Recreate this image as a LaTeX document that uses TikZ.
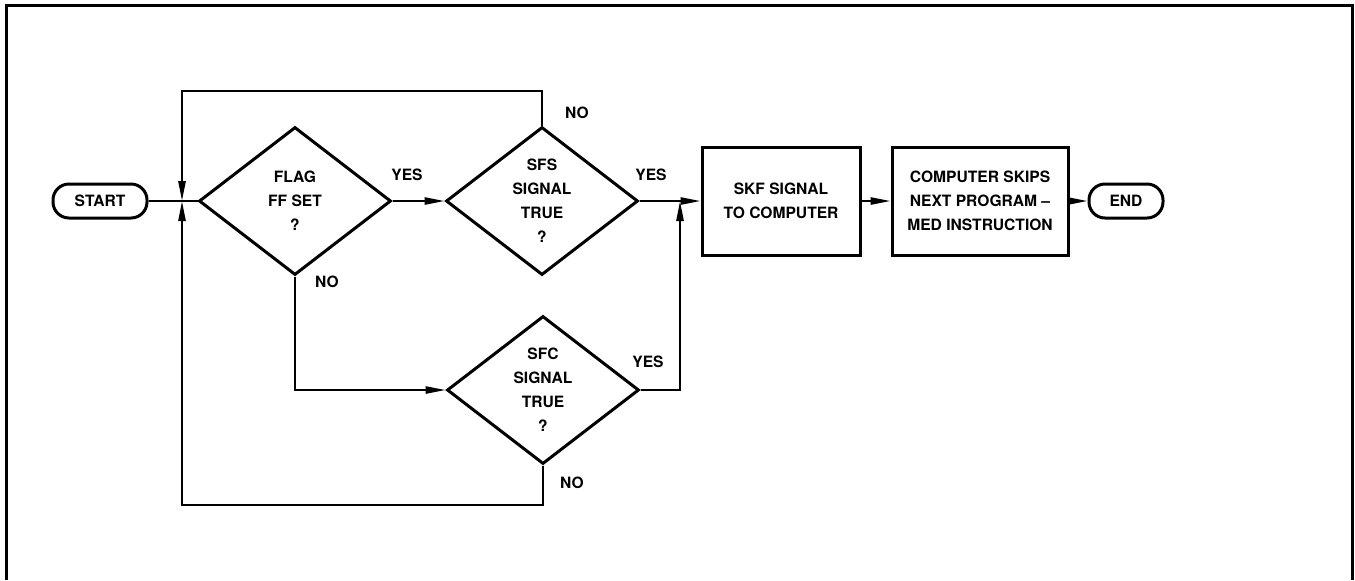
\documentclass[tikz,border=0pt]{standalone}
\usepackage{fontspec}
\setmainfont{TeX Gyre Heros}
\usetikzlibrary{arrows.meta,positioning,shapes.geometric}
\tikzset{
  term/.style={draw, line width=1.5pt, rounded corners=8pt, minimum height=17pt, inner sep=0pt},
  dec/.style={draw, diamond, line width=1.5pt, aspect=1.3, inner sep=0pt, align=center, minimum width=96pt, minimum height=74pt},
  blk/.style={draw, line width=1.5pt, align=center, minimum height=54pt, inner sep=2pt},
  arr/.style={-{Triangle[length=10pt, width=3.6pt]}, line width=1pt},
  ln/.style={line width=1pt},
  lbl/.style={inner sep=0pt},
}
\begin{document}
\begin{tikzpicture}[x=0.5pt, y=-0.5pt, font=\fontsize{7.8}{12}\selectfont\bfseries]
  \useasboundingbox (0,0) rectangle (1355,580);
  % frame
  \draw[line width=1.5pt] (6,580) -- (6,5) -- (1352,5) -- (1352,580);

  % main line
  \node[term, minimum width=47pt] (start) at (100,201) {START};
  \node[dec] (flag) at (295,201) {FLAG\\FF SET\\?};
  \node[dec] (sfs) at (542,201) {SFS\\SIGNAL\\TRUE\\?};
  \node[dec] (sfc) at (543,390) {SFC\\SIGNAL\\TRUE\\?};
  \node[blk, minimum width=79pt] (skf) at (781,201) {SKF SIGNAL\\TO COMPUTER};
  \node[blk, minimum width=88pt] (skip) at (980,201) {COMPUTER SKIPS\\NEXT PROGRAM --\\MED INSTRUCTION};
  \node[term, minimum width=37pt] (end) at (1126,201) {END};

  % junctions and loop corners
  \coordinate (jl) at (182,201);
  \coordinate (jr) at (680,201);
  \coordinate (looptop) at (182,91);
  \coordinate (loopbot) at (182,505);

  \draw[ln] (start) -- (flag.west);
  \draw[arr] (flag.east) -- (sfs.west);
  \draw[arr] (sfs.east) -- (skf.west);
  \draw[arr] (skf) -- (skip);
  \draw[arr] (skip) -- (end);
  \draw[arr] (sfs.north) |- (looptop) -- (jl);
  \draw[arr] (sfc.south) |- (loopbot) -- (jl);
  \draw[arr] (flag.south) |- (sfc.west);
  \draw[arr] (sfc.east) -| (jr);

  % branch labels
  \node[lbl] (flagyes) at (407,175) {YES};
  \node[lbl] (flagno) at (327,282) {NO};
  \node[lbl] (sfsno) at (577,113) {NO};
  \node[lbl] (sfsyes) at (651,175) {YES};
  \node[lbl] (sfcyes) at (648,362) {YES};
  \node[lbl] (sfcno) at (572,483) {NO};
\end{tikzpicture}
\end{document}
